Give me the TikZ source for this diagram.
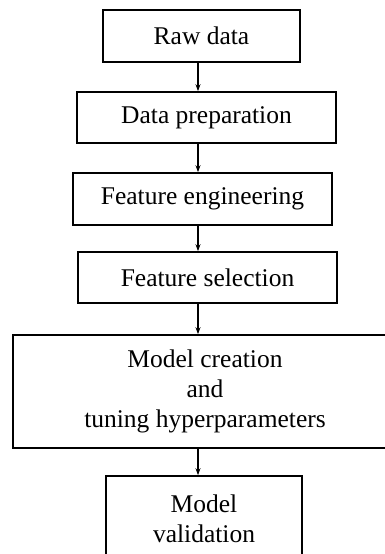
\documentclass[tikz,border=0pt]{standalone}
\usepackage{fontspec}
\setmainfont{Liberation Serif}
\usetikzlibrary{arrows.meta}
\begin{document}
\begin{tikzpicture}[x=1pt,y=-1pt,
  stepbox/.style={draw=black, line width=1.6pt, inner sep=0pt, align=center,
    font=\fontsize{25.5}{30}\selectfont, text=black},
  arr/.style={line width=1.6pt, -{Stealth[length=7pt,width=5pt]}}]
\clip (0,0) rectangle (385,554);
\fill[white] (0,0) rectangle (385,554);
\node[stepbox, minimum width=197pt, minimum height=52pt] (raw) at (201.5,36) {Raw data};
\node[stepbox, minimum width=259pt, minimum height=51pt] (prep) at (206.5,117.5) {Data preparation};
\node[stepbox, minimum width=259pt, minimum height=52pt] (feng) at (202.5,199) {Feature engineering};
\node[stepbox, minimum width=259pt, minimum height=51pt] (fsel) at (207.5,277.5) {Feature selection};
\node[stepbox, minimum width=384pt, minimum height=113pt] (mcre) at (205,391.5) {Model creation\\and\\tuning hyperparameters};
\node[stepbox, minimum width=196pt, minimum height=86pt] (mval) at (204,519) {Model\\validation};
\coordinate (ax) at (198,0);
\draw[arr] (raw.south -| ax) -- (prep.north -| ax);
\draw[arr] (prep.south -| ax) -- (feng.north -| ax);
\draw[arr] (feng.south -| ax) -- (fsel.north -| ax);
\draw[arr] (fsel.south -| ax) -- (mcre.north -| ax);
\draw[arr] (mcre.south -| ax) -- (mval.north -| ax);
\end{tikzpicture}
\end{document}
